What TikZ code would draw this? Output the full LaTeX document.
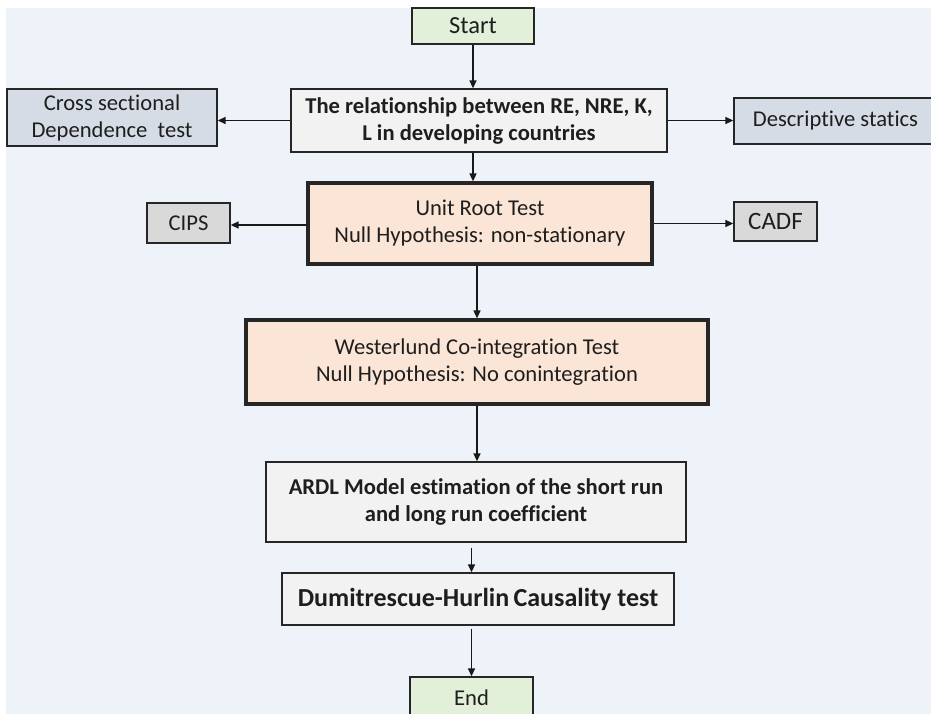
\documentclass[tikz,border=0pt]{standalone}
\usepackage{fontspec}
\setmainfont{Carlito}[RawFeature={-liga;-clig;-calt;-dlig}]
\usetikzlibrary{arrows.meta}
\definecolor{bgc}{HTML}{EEF2F9}
\definecolor{greenf}{HTML}{E2F0D9}
\definecolor{bluef}{HTML}{D6DCE5}
\definecolor{grayf}{HTML}{D9D9D9}
\definecolor{lightf}{HTML}{F2F2F2}
\definecolor{peachf}{HTML}{FBE5D6}
\definecolor{txt}{HTML}{1E1E1E}
\begin{document}
\begin{tikzpicture}[x=1pt,y=-1pt,
  box/.style={draw=black!85, rectangle, inner sep=0pt, align=center, text=txt,
    line width=1.3pt, font=\fontsize{22.6}{27}\selectfont},
  thickbox/.style={box, fill=peachf, line width=3.2pt},
  boldtxt/.style={font=\fontsize{22.6}{27}\selectfont\bfseries},
  arr/.style={-{Triangle[length=8pt,width=7pt]}, line width=1.5pt, draw=black!90}]
\useasboundingbox (0,0) rectangle (931,714);
\fill[bgc] (6,8) rectangle (931,714);
\begin{scope}
\clip (0,0) rectangle (931,714);
\node[box, fill=greenf, minimum width=122pt, minimum height=36pt, font=\fontsize{24.5}{28}\selectfont] (start) at (473,26) {Start};
\node[box, fill=bluef, minimum width=210pt, minimum height=57pt] (cross) at (112,117.5) {Cross sectional\\Dependence\ \ test};
\node[box, fill=lightf, minimum width=376pt, minimum height=63pt, boldtxt] (main) at (479,120.5) {The relationship between RE, NRE, K,\\L in developing countries};
\node[box, fill=bluef, minimum width=203pt, minimum height=46pt] (desc) at (835.5,121) {Descriptive statics};
\node[box, fill=grayf, minimum width=83pt, minimum height=40pt] (cips) at (188.5,223) {CIPS};
\node[thickbox, minimum width=344pt, minimum height=81pt] (unit) at (480,223.5) {Unit Root Test\\Null Hypothesis: non-stationary};
\node[box, fill=grayf, minimum width=83pt, minimum height=39pt, font=\fontsize{25}{28}\selectfont] (cadf) at (775.5,221.5) {CADF};
\node[thickbox, minimum width=462pt, minimum height=84pt] (west) at (477,362) {Westerlund Co-integration Test\\Null Hypothesis: No conintegration};
\node[box, fill=lightf, minimum width=420pt, minimum height=80pt, boldtxt] (ardl) at (476,502) {ARDL Model estimation of the short run\\and long run coefficient};
\node[box, fill=lightf, minimum width=392pt, minimum height=52pt, font=\fontsize{26}{30}\selectfont\bfseries] (dh) at (478,599) {Dumitrescue-Hurlin\,Causality test};
\node[box, fill=greenf, minimum width=123pt, minimum height=42pt] (end) at (471.5,698) {End};
\end{scope}
\draw[arr] (start.south) -- (start.south |- main.north);
\draw[arr] (main.south -| start.south) -- (unit.north -| start.south);
\draw[arr] (main.west) -- (main.west -| cross.east);
\draw[arr] (main.east) -- (main.east -| desc.west);
\draw[arr] ([yshift=-1.5pt]unit.west) -- ([yshift=-1.5pt]unit.west -| cips.east);
\draw[arr] (unit.east) -- (unit.east -| cadf.west);
\draw[arr] (unit.south -| west.north) -- (west.north);
\draw[arr] (west.south) -- (west.south |- ardl.north);
\draw[arr] ([yshift=-5pt]ardl.south -| end.north) -- (dh.north -| end.north);
\draw[arr] ([yshift=-3pt]dh.south -| end.north) -- (end.north);
\end{tikzpicture}
\end{document}
